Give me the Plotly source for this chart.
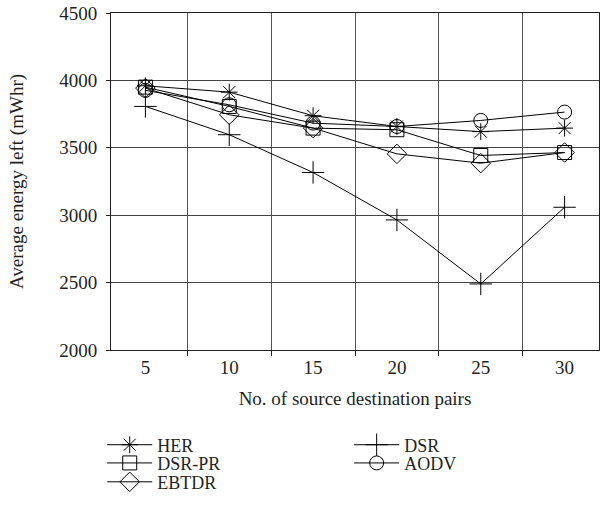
import plotly.graph_objects as go

categories = ["5", "10", "15", "20", "25", "30"]
her = [3960, 3913, 3738, 3658, 3620, 3646]
dsr_pr = [3950, 3807, 3646, 3634, 3443, 3465]
ebtdr = [3943, 3745, 3646, 3455, 3386, 3465]
dsr = [3807, 3597, 3317, 2965, 2490, 3059]
aodv = [3926, 3819, 3683, 3658, 3703, 3765]

FONT = "Liberation Serif"
FS = 19
LFS = 18
INK = "#231f20"

series = [
    ("HER", her, "asterisk-open", 14),
    ("DSR-PR", dsr_pr, "square-open", 14),
    ("EBTDR", ebtdr, "diamond-open", 15),
    ("DSR", dsr, "cross-thin-open", 16),
    ("AODV", aodv, "circle-open", 14),
]
# legend placement (paper coords): column 1 and column 2
legend_pos = [(-0.018, -0.282), (-0.018, -0.336), (-0.018, -0.392),
              (0.488, -0.282), (0.488, -0.336)]

fig = go.Figure()
layout_legends = {}
for i, (name, vals, sym, size) in enumerate(series):
    key = "legend" if i == 0 else f"legend{i+1}"
    fig.add_trace(go.Scatter(
        x=categories, y=vals, name=name, mode="lines+markers",
        line=dict(color="black", width=1),
        marker=dict(symbol=sym, size=size, color="black", line=dict(color="black", width=1)),
        legend=key,
    ))
    lx, ly = legend_pos[i]
    layout_legends[key] = dict(x=lx, y=ly, xanchor="left", yanchor="middle",
                               font=dict(family=FONT, size=LFS, color=INK),
                               itemwidth=45, bgcolor="rgba(0,0,0,0)",
                               borderwidth=0)

fig.update_layout(
    width=602, height=505,
    margin=dict(l=111, r=3, t=13, b=155, autoexpand=False),
    paper_bgcolor="white", plot_bgcolor="white",
    font=dict(family=FONT, size=FS, color=INK),
    showlegend=True,
    xaxis=dict(
        type="category", tickson="boundaries", automargin=False,
        showgrid=True, gridcolor="#555", gridwidth=1,
        showline=True, linecolor=INK, linewidth=1, mirror=True,
        ticks="outside", ticklen=5, tickcolor=INK,
        title=dict(text="No. of source destination pairs", font=dict(family=FONT, size=FS), standoff=14),
        tickfont=dict(family=FONT, size=FS),
    ),
    yaxis=dict(
        range=[2000, 4500], dtick=500, tick0=2000, automargin=False,
        showgrid=True, gridcolor="#444", gridwidth=1,
        showline=True, linecolor=INK, linewidth=1, mirror=True,
        ticks="outside", ticklen=4, tickcolor=INK,
        zeroline=False, ticklabelstandoff=5,
        title=dict(text="Average energy left (mWhr)", font=dict(family=FONT, size=FS), standoff=30),
        tickfont=dict(family=FONT, size=FS),
    ),
    **layout_legends,
)

fig.write_html("out.html", config={"displayModeBar": False},
               post_script="document.body.style.margin='0';")
